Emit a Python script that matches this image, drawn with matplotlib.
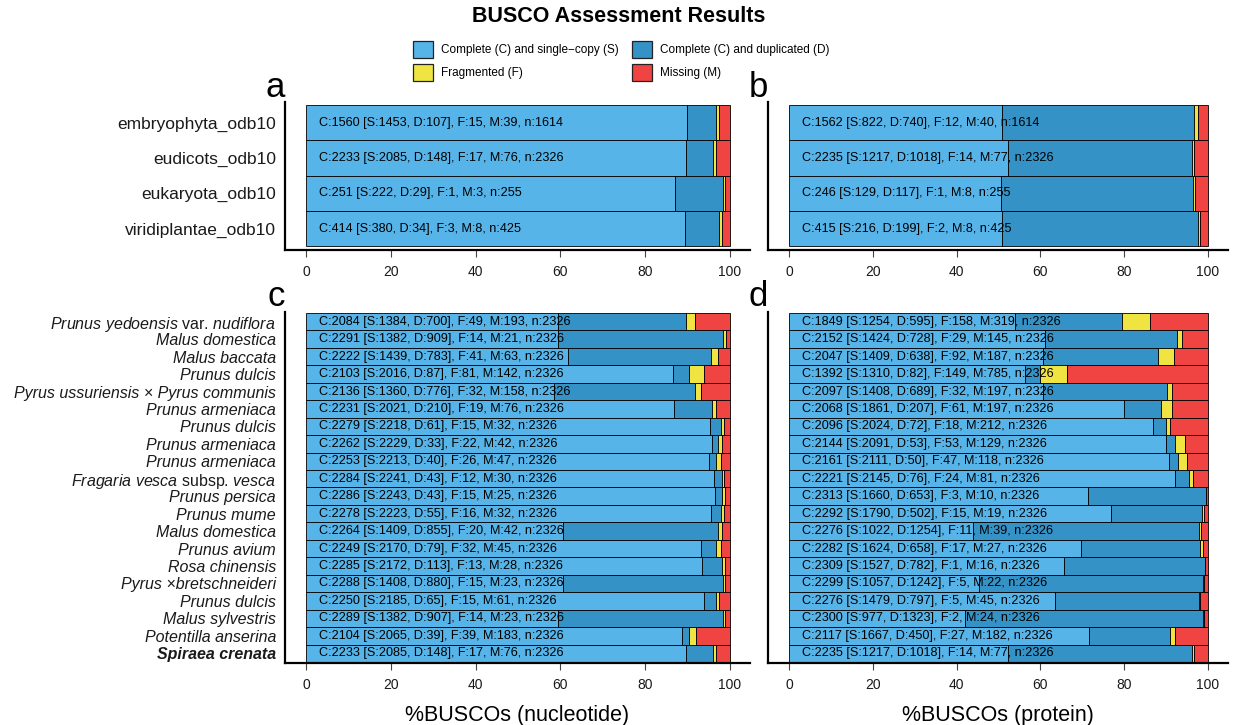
import matplotlib
matplotlib.use("Agg")
import matplotlib.pyplot as plt
from matplotlib.patches import Patch
import numpy as np

plt.rcParams["font.family"] = ["Liberation Sans", "DejaVu Sans"]
plt.rcParams["mathtext.fontset"] = "custom"
plt.rcParams["mathtext.rm"] = "Liberation Sans"
plt.rcParams["mathtext.it"] = "Liberation Sans:italic"
plt.rcParams["mathtext.bf"] = "Liberation Sans:bold"

# ---- data ----
lineages = ["embryophyta_odb10", "eudicots_odb10", "eukaryota_odb10", "viridiplantae_odb10"]
lin_n = [1614, 2326, 255, 425]

# nucleotide, lineages (panel a)
a_S = [1453, 2085, 222, 380]
a_D = [107, 148, 29, 34]
a_F = [15, 17, 1, 3]
a_M = [39, 76, 3, 8]

# protein, lineages (panel b)
b_S = [822, 1217, 129, 216]
b_D = [740, 1018, 117, 199]
b_F = [12, 14, 1, 2]
b_M = [40, 77, 8, 8]

species = [
    r"$\mathit{Prunus\ yedoensis}$ var. $\mathit{nudiflora}$",
    "Malus domestica",
    "Malus baccata",
    "Prunus dulcis",
    "Pyrus ussuriensis × Pyrus communis",
    "Prunus armeniaca",
    "Prunus dulcis",
    "Prunus armeniaca",
    "Prunus armeniaca",
    r"$\mathit{Fragaria\ vesca}$ subsp. $\mathit{vesca}$",
    "Prunus persica",
    "Prunus mume",
    "Malus domestica",
    "Prunus avium",
    "Rosa chinensis",
    "Pyrus ×bretschneideri",
    "Prunus dulcis",
    "Malus sylvestris",
    "Potentilla anserina",
    "Spiraea crenata",
]
sp_n = [2326] * 20

# nucleotide, species (panel c)
c_S = [1384, 1382, 1439, 2016, 1360, 2021, 2218, 2229, 2213, 2241,
       2243, 2223, 1409, 2170, 2172, 1408, 2185, 1382, 2065, 2085]
c_D = [700, 909, 783, 87, 776, 210, 61, 33, 40, 43,
       43, 55, 855, 79, 113, 880, 65, 907, 39, 148]
c_F = [49, 14, 41, 81, 32, 19, 15, 22, 26, 12,
       15, 16, 20, 32, 13, 15, 15, 14, 39, 17]
c_M = [193, 21, 63, 142, 158, 76, 32, 42, 47, 30,
       25, 32, 42, 45, 28, 23, 61, 23, 183, 76]

# protein, species (panel d)
d_S = [1254, 1424, 1409, 1310, 1408, 1861, 2024, 2091, 2111, 2145,
       1660, 1790, 1022, 1624, 1527, 1057, 1479, 977, 1667, 1217]
d_D = [595, 728, 638, 82, 689, 207, 72, 53, 50, 76,
       653, 502, 1254, 658, 782, 1242, 797, 1323, 450, 1018]
d_F = [158, 29, 92, 149, 32, 61, 18, 53, 47, 24,
       3, 15, 11, 17, 1, 5, 5, 2, 27, 14]
d_M = [319, 145, 187, 785, 197, 197, 212, 129, 118, 81,
       10, 19, 39, 27, 16, 22, 45, 24, 182, 77]

colors = ["#56B4E9", "#3492C7", "#F0E442", "#F04442"]
legend_labels = ["Complete (C) and single\u2212copy (S)", "Complete (C) and duplicated (D)",
                 "Fragmented (F)", "Missing (M)"]

W, H = 1237, 725
fig = plt.figure(figsize=(W / 100, H / 100), dpi=100)


def px_axes(left, right, top, bottom):
    return fig.add_axes([left / W, 1 - bottom / H, (right - left) / W, (bottom - top) / H])


def draw_panel(ax, S, D, F, M, n, labels, label_size, pad_top, pad_bot):
    S, D, F, M, n = map(np.array, (S, D, F, M, n))
    y = np.arange(len(S))
    left = np.zeros(len(S))
    for vals, col in zip([S, D, F, M], colors):
        pct = vals / n * 100
        ax.barh(y, pct, left=left, height=1.0, color=col, edgecolor="black", linewidth=0.6)
        left += pct
    for yi, s, d, f, m, nn in zip(y, S, D, F, M, n):
        ax.text(3, yi, f"C:{s + d} [S:{s}, D:{d}], F:{f}, M:{m}, n:{nn}",
                ha="left", va="center", fontsize=9.1, color="black", zorder=5)
    ax.set_xlim(-5, 104.8)
    ax.set_ylim(len(S) - 0.5 + pad_bot, -0.5 - pad_top)
    ax.set_xticks([0, 20, 40, 60, 80, 100])
    ax.set_yticks(y)
    ax.set_yticklabels(labels, fontsize=label_size, color="#1a1a1a")
    ax.tick_params(axis="y", length=0, pad=6.5)
    ax.tick_params(axis="x", length=5, width=0.8, color="#444444", labelsize=10,
                   labelcolor="#1a1a1a", pad=5.5)
    for s in ["top", "right"]:
        ax.spines[s].set_visible(False)
    for s in ["left", "bottom"]:
        ax.spines[s].set_linewidth(1.6)
        ax.spines[s].set_color("black")


ax_a = px_axes(285, 750, 102, 250)
ax_b = px_axes(768, 1228, 102, 250)
ax_c = px_axes(285, 750, 312, 663)
ax_d = px_axes(768, 1228, 312, 663)

draw_panel(ax_a, a_S, a_D, a_F, a_M, lin_n, lineages, 12.5, 0.09, 0.11)
draw_panel(ax_b, b_S, b_D, b_F, b_M, lin_n, [], 12.5, 0.09, 0.11)
draw_panel(ax_c, c_S, c_D, c_F, c_M, sp_n, species, 11.5, 0.06, 0.06)
draw_panel(ax_d, d_S, d_D, d_F, d_M, sp_n, [], 11.5, 0.06, 0.06)

# species label styles
for i, lab in enumerate(ax_c.get_yticklabels()):
    if "$" in species[i]:
        continue
    lab.set_fontstyle("italic")
    if species[i] == "Spiraea crenata":
        lab.set_fontweight("bold")

ax_c.set_xlabel("%BUSCOs (nucleotide)", fontsize=15.5, labelpad=10)
ax_d.set_xlabel("%BUSCOs (protein)", fontsize=15.5, labelpad=10)

# panel letters
for x, yb, letter in [(285, 97, "a"), (768, 97, "b"), (285, 306, "c"), (768, 306, "d")]:
    fig.text(x / W, 1 - yb / H, letter, fontsize=25, ha="right", va="baseline")

fig.text(0.5, 1 - 17 / H, "BUSCO Assessment Results", fontsize=15.5,
         fontweight="bold", ha="center", va="center")

# legend: rows S | D, F | M  (matplotlib fills columns first)
order = [0, 2, 1, 3]
handles = [Patch(facecolor=colors[i], edgecolor="#222222", linewidth=0.9) for i in order]
fig.legend(handles, [legend_labels[i] for i in order], loc="upper center",
           bbox_to_anchor=(0.502, 1 - 35 / H),
           ncol=2, frameon=False, fontsize=8.5, handlelength=1.7, handleheight=1.8,
           labelspacing=0.55, handletextpad=0.68, columnspacing=1.1, borderpad=0)

fig.savefig("out.png", dpi=100)
